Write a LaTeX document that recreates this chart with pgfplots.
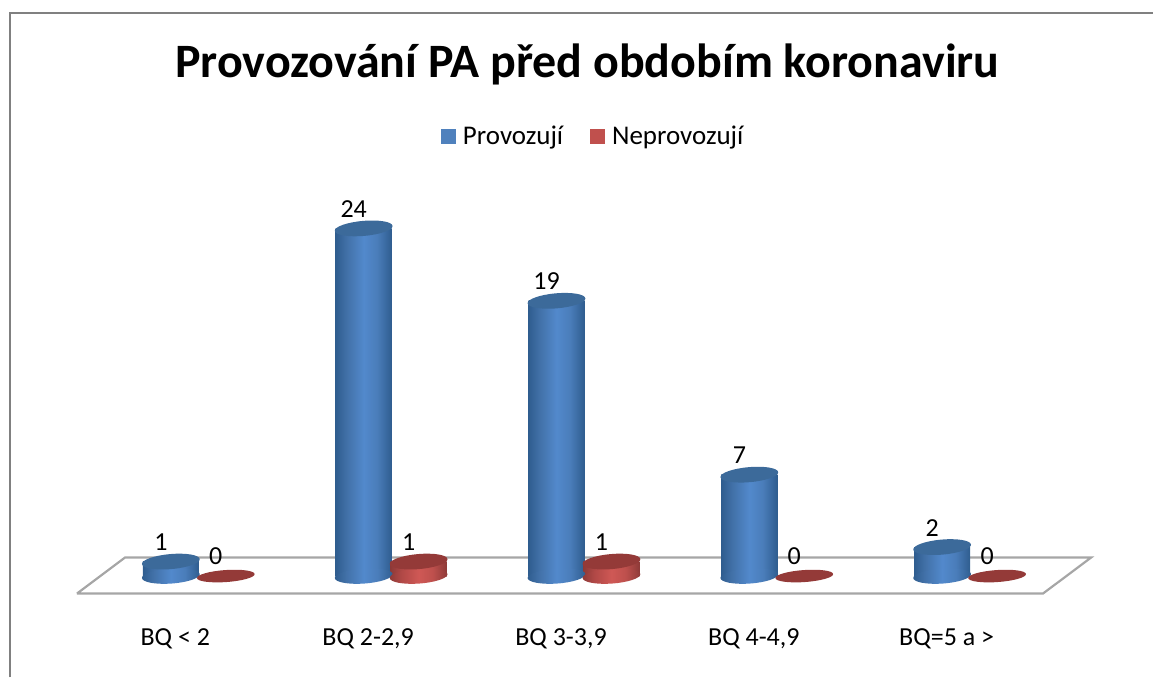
\documentclass[border=0pt]{standalone}
\usepackage{fontspec}
\setmainfont{Carlito}
\usepackage{pgfplots}
\usepackage{pgfplotstable}
\pgfplotsset{compat=1.18}
\definecolor{capb}{HTML}{3C6A9A}
\definecolor{capr}{HTML}{943A38}
\definecolor{legb}{HTML}{4F81BD}
\definecolor{legr}{HTML}{C0504D}
\definecolor{be}{HTML}{2F5D8F}
\definecolor{bm}{HTML}{4271A8}
\definecolor{bc}{HTML}{5289CC}
\definecolor{bn}{HTML}{4A7DBA}
\definecolor{re}{HTML}{8E3A38}
\definecolor{rm}{HTML}{B04846}
\definecolor{rc}{HTML}{CF5855}
\definecolor{rn}{HTML}{BE504D}
\pgfdeclarehorizontalshading{cylb}{100bp}{color(0bp)=(be);color(25bp)=(be);color(35bp)=(bm);color(50bp)=(bc);color(62bp)=(bn);color(75bp)=(be);color(100bp)=(be)}
\pgfdeclarehorizontalshading{cylr}{100bp}{color(0bp)=(re);color(25bp)=(re);color(35bp)=(rm);color(50bp)=(rc);color(62bp)=(rn);color(75bp)=(re);color(100bp)=(re)}
\pgfdeclareplotmark{capb}{\pgfsetfillcolor{capb}\pgfpathellipse{\pgfpointorigin}{\pgfqpoint{28.9pt}{2.5pt}}{\pgfqpoint{-0.65pt}{7.5pt}}\pgfusepath{fill}}
\pgfdeclareplotmark{capr}{\pgfsetfillcolor{capr}\pgfpathellipse{\pgfpointorigin}{\pgfqpoint{28.9pt}{2.5pt}}{\pgfqpoint{-0.65pt}{7.5pt}}\pgfusepath{fill}}
\pgfdeclareplotmark{zeror}{\pgfsetfillcolor{capr}\pgfpathellipse{\pgfpointorigin}{\pgfqpoint{28.9pt}{2pt}}{\pgfqpoint{-0.4pt}{6pt}}\pgfusepath{fill}}
\pgfdeclareplotmark{baseb}{\pgfpathellipse{\pgfpointorigin}{\pgfqpoint{28.9pt}{2pt}}{\pgfqpoint{-0.5pt}{7.5pt}}\pgfshadepath{cylb}{0}\pgfusepath{discard}}
\pgfdeclareplotmark{baser}{\pgfpathellipse{\pgfpointorigin}{\pgfqpoint{28.9pt}{2pt}}{\pgfqpoint{-0.5pt}{7.5pt}}\pgfshadepath{cylr}{0}\pgfusepath{discard}}
\pgfplotstableread{
x prov neprov
0 1  0
1 24 1
2 19 1
3 7  0
4 2  0
}\data
\begin{document}
\begin{tikzpicture}
\begin{axis}[
  scale only axis, width=1154pt, height=678pt,
  xmin=-0.886, xmax=5.093, ymin=-7, ymax=39.76,
  clip=false,
  axis line style={draw=none},
  major tick length=0pt,
  ytick=\empty,
  xtick={0,1,2,3,4},
  xticklabels={{BQ < 2},{BQ 2-2,9},{BQ 3-3,9},{BQ 4-4,9},{BQ=5 a >}},
  xticklabel style={font=\fontsize{26}{30}\selectfont, anchor=center, xshift=4.5pt, yshift=39pt},
  legend columns=2,
  legend style={draw=none, fill=none, at={(rel axis cs:0.5145,0.799)}, anchor=center,
    font=\fontsize{27}{31}\selectfont, /tikz/every even column/.style={column sep=25pt}, /tikz/every odd column/.style={column sep=5pt}},
  legend image code/.code={\path[#1] (0pt,-7.5pt) rectangle (15pt,7.5pt);},
  /pgf/number format/assume math mode=true,
  nodes near coords style={font=\fontsize{26}{30}\selectfont, anchor=center, xshift=-10pt, yshift=19.5pt, text=black},
]
\addlegendimage{fill=legb,draw=none}
\addlegendentry{Provozují}
\addlegendimage{fill=legr,draw=none}
\addlegendentry{Neprovozují}

% floor
\addplot[forget plot, draw=black!35, line width=2.2pt, line join=miter] coordinates {(-0.487,-1.207) (-0.238,1.276) (4.772,1.276) (4.523,-1.207) (-0.487,-1.207)};

% blue cylinders
\addplot[forget plot, only marks, mark=baseb] coordinates {(0,0)(1,0)(2,0)(3,0)(4,0)};
\addplot[forget plot, ybar, bar width=56pt, bar shift=0pt, draw=none, shading=cylb] coordinates {(0,1)};
\addplot[forget plot, ybar, bar width=56pt, bar shift=0pt, draw=none, shading=cylb] coordinates {(1,24)};
\addplot[forget plot, ybar, bar width=56pt, bar shift=0pt, draw=none, shading=cylb] coordinates {(2,19)};
\addplot[forget plot, ybar, bar width=56pt, bar shift=0pt, draw=none, shading=cylb] coordinates {(3,7)};
\addplot[forget plot, ybar, bar width=56pt, bar shift=0pt, draw=none, shading=cylb] coordinates {(4,2)};
\addplot[forget plot, only marks, mark=capb, nodes near coords, point meta=y] table[x=x,y=prov]{\data};

% red cylinders
\addplot[forget plot, only marks, mark=baser] coordinates {(1.285,0)(2.285,0)};
\addplot[forget plot, ybar, bar width=56pt, bar shift=0pt, draw=none, shading=cylr] coordinates {(1.285,1)};
\addplot[forget plot, ybar, bar width=56pt, bar shift=0pt, draw=none, shading=cylr] coordinates {(2.285,1)};
\addplot[forget plot, only marks, mark=capr, nodes near coords, point meta=y] coordinates {(1.285,1)(2.285,1)};
\addplot[forget plot, only marks, mark=zeror, nodes near coords, point meta=y] coordinates {(0.285,0)(3.285,0)(4.285,0)};

% frame
\draw[draw=black!50, line width=2.2pt] (axis cs:-0.833,-7) -- (axis cs:-0.833,38.85) -- (axis cs:5.093,38.85);
\node[font=\bfseries\fontsize{48}{54}\selectfont, anchor=center] at (axis cs:2.16,35.3) {Provozování PA před obdobím koronaviru};
\end{axis}
\end{tikzpicture}
\end{document}
